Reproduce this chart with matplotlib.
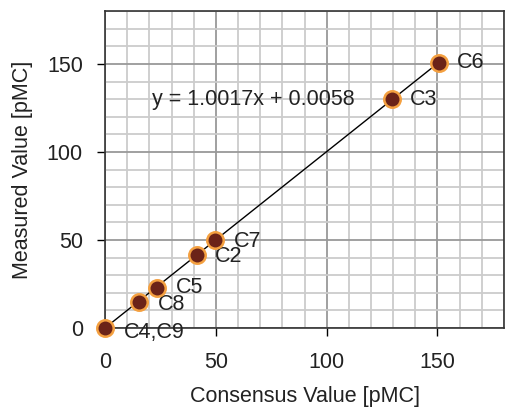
import numpy as np
import matplotlib
matplotlib.use('Agg')
from matplotlib import pyplot as plt
from matplotlib.ticker import MultipleLocator

plt.rcParams['font.family'] = ['Liberation Sans', 'DejaVu Sans']

# samples: consensus value vs measured value (pMC)
names = ['C6', 'C3', 'C7', 'C2', 'C5', 'C8', 'C4,C9']
consensus = [150.5, 129.3, 49.5, 41.3, 23.3, 15.3, 0.0]
measured = [150.7, 129.8, 49.8, 41.2, 22.8, 15.0, 0.0]
slope = 1.0017
intercept = 0.0058

fs = 15.5
fig = plt.figure(figsize=(5.05, 4.11), dpi=100)
ax = fig.add_axes([0.208, 0.202, 0.79, 0.771])

ax.set_xlim(0, 180)
ax.set_ylim(0, 180)
ax.xaxis.set_major_locator(MultipleLocator(50))
ax.yaxis.set_major_locator(MultipleLocator(50))
ax.xaxis.set_minor_locator(MultipleLocator(10))
ax.yaxis.set_minor_locator(MultipleLocator(10))
ax.grid(which='minor', color='#cccccc', lw=1.3)
ax.grid(which='major', color='#999999', lw=1.3)
ax.set_axisbelow(True)
ax.tick_params(which='minor', length=0)
ax.tick_params(which='major', direction='out', length=6, width=1, labelsize=fs,
               labelcolor='#222222')
ax.tick_params(axis='x', pad=11)
ax.tick_params(axis='y', pad=10)
for s in ax.spines.values():
    s.set_color('#333333')
    s.set_linewidth(1.2)

# trend line over data range
xs = np.array([min(consensus), max(consensus)])
ax.plot(xs, slope * xs + intercept, color='black', lw=1, zorder=3)

ax.scatter(consensus, measured, s=140, facecolor='#6b2318', edgecolor='#f4a040',
           linewidth=1.8, zorder=4, clip_on=False)

dys = [0, 0, -1, -1, 0, -2, -3]
for n, x, y, dy in zip(names, consensus, measured, dys):
    ax.annotate(n, (x, y), xytext=(13.5, dy), textcoords='offset points',
                ha='left', va='center', fontsize=fs, color='#222222')

ax.text(21.2, 129.5, 'y = 1.0017x + 0.0058', fontsize=fs, va='center', ha='left',
        color='#222222')

ax.set_xlabel('Consensus Value [pMC]', fontsize=fs, labelpad=10, color='#222222')
ax.set_ylabel('Measured Value [pMC]', fontsize=fs, labelpad=10, color='#222222')

fig.savefig('out.png', dpi=100)
